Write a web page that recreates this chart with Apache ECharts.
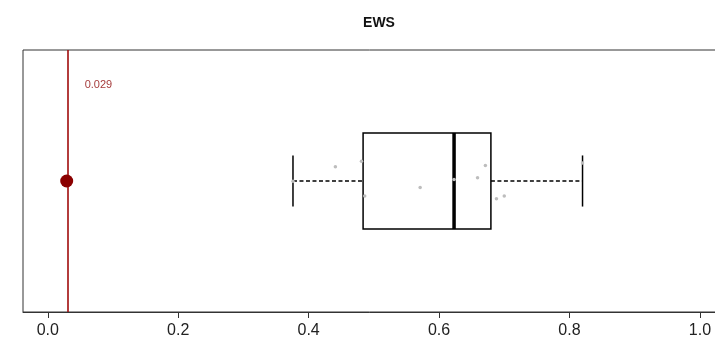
<!DOCTYPE html>
<html>
<head>
<meta charset="utf-8">
<script src="https://cdn.jsdelivr.net/npm/echarts@6/dist/echarts.min.js"></script>
<style>
  html, body { margin: 0; padding: 0; background: #fff; }
  #chart { width: 715px; height: 342px; }
</style>
</head>
<body>
<div id="chart"></div>
<script>
// data
var title = 'EWS';
var observed = 0.029;                                  // red line value
var boxStats = [0.376, 0.4835, 0.623, 0.6795, 0.820];  // lower, Q1, median, Q3, upper
var pointX = [0.376, 0.441, 0.481, 0.486, 0.571, 0.623, 0.659, 0.671, 0.688, 0.700, 0.820];
var pointY = [0.499, 0.554, 0.575, 0.443, 0.475, 0.506, 0.512, 0.559, 0.432, 0.443, 0.569];
var tickValues = [0, 0.2, 0.4, 0.6, 0.8, 1.0];

var points = pointX.map(function (x, i) { return [x, pointY[i]]; });
var center = 0.5;

var myChart = echarts.init(document.getElementById('chart'));

myChart.setOption({
    animation: false,
    title: {
        text: title,
        left: 374,
        textAlign: 'center',
        top: 11,
        textStyle: { fontFamily: 'Arial', fontSize: 14, fontWeight: 'bold', color: '#111' }
    },
    grid: {
        left: 23, right: -11, top: 50, bottom: 30,
        show: true, borderColor: '#333', borderWidth: 1,
        containLabel: false, outerBoundsMode: 'none'
    },
    xAxis: {
        type: 'value',
        min: -0.038, max: 1.04,
        splitLine: { show: false },
        axisLine: { show: true, lineStyle: { color: '#333', width: 1 } },
        axisTick: { show: true, length: 6, customValues: tickValues, lineStyle: { color: '#333' } },
        axisLabel: {
            customValues: tickValues,
            margin: 11,
            fontFamily: 'Arial', fontSize: 16, color: '#222',
            formatter: function (v) { return v.toFixed(1); }
        }
    },
    yAxis: {
        type: 'value', min: 0, max: 1, show: false
    },
    series: [
        {
            // box with dashed whiskers
            type: 'custom',
            silent: true,
            data: [boxStats.concat([center])],
            encode: { x: [0, 1, 2, 3, 4], y: 5 },
            renderItem: function (params, api) {
                var y = api.value(5);
                var boxH = api.size([0, 0.367])[1];
                var capH = api.size([0, 0.195])[1];
                var lo = api.coord([api.value(0), y]);
                var q1 = api.coord([api.value(1), y]);
                var md = api.coord([api.value(2), y]);
                var q3 = api.coord([api.value(3), y]);
                var hi = api.coord([api.value(4), y]);
                var cy = lo[1];
                var stroke = { stroke: '#000', lineWidth: 1.5, fill: null };
                var dash = { stroke: '#000', lineWidth: 1.5, lineDash: [4, 2.5] };
                return {
                    type: 'group',
                    children: [
                        { type: 'line', shape: { x1: lo[0], y1: cy, x2: q1[0], y2: cy }, style: dash },
                        { type: 'line', shape: { x1: q3[0], y1: cy, x2: hi[0], y2: cy }, style: dash },
                        { type: 'line', shape: { x1: lo[0], y1: cy - capH / 2, x2: lo[0], y2: cy + capH / 2 }, style: stroke },
                        { type: 'line', shape: { x1: hi[0], y1: cy - capH / 2, x2: hi[0], y2: cy + capH / 2 }, style: stroke },
                        { type: 'rect', shape: { x: q1[0], y: cy - boxH / 2, width: q3[0] - q1[0], height: boxH }, style: { stroke: '#000', lineWidth: 1.5, fill: '#fff' } },
                        { type: 'line', shape: { x1: md[0], y1: cy - boxH / 2, x2: md[0], y2: cy + boxH / 2 }, style: { stroke: '#000', lineWidth: 3.5 } }
                    ]
                };
            }
        },
        {
            // jittered points
            type: 'scatter',
            silent: true,
            data: points,
            symbolSize: 3.5,
            itemStyle: { color: '#bdbdbd', opacity: 1 }
        },
        {
            // observed value: dot + vertical line
            type: 'scatter',
            silent: true,
            data: [[observed, center]],
            symbolSize: 13,
            itemStyle: { color: '#8b0000', opacity: 1 },
            z: 5,
            markLine: {
                silent: true,
                symbol: ['none', 'none'],
                label: { show: false },
                lineStyle: { color: '#a00c0c', type: 'solid', width: 1.6, opacity: 1 },
                data: [{ xAxis: observed }]
            }
        },
        {
            // value label
            type: 'scatter',
            silent: true,
            data: [[observed, 0.865]],
            symbolSize: 0,
            label: {
                show: true,
                position: 'right',
                distance: 18,
                fontFamily: 'Arial', fontSize: 11, color: '#8b0000',
                formatter: function (p) { return p.value[0].toFixed(3); }
            }
        }
    ]
});
</script>
</body>
</html>
